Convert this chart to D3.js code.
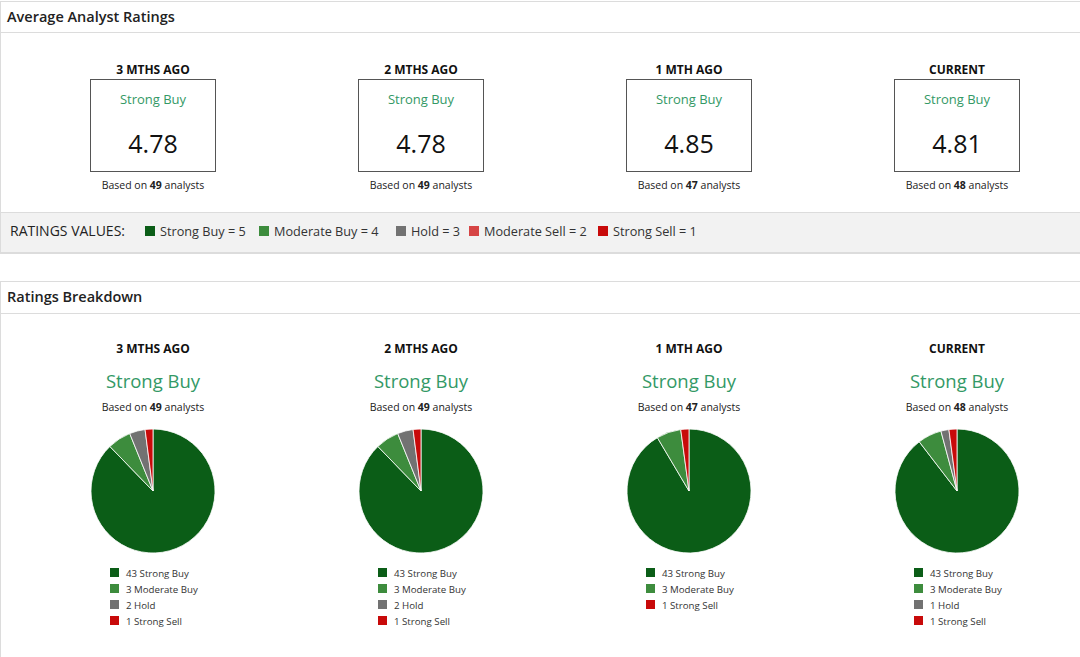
<!DOCTYPE html>
<html>
<head>
<meta charset="utf-8">
<script src="https://cdn.jsdelivr.net/npm/d3@7"></script>
<style>
  body { margin: 0; background: #fff; }
  svg { display: block; font-family: "Open Sans", "Noto Sans", sans-serif; }
</style>
</head>
<body>
<div id="chart"></div>
<script>
// data
const periods = ["3 MTHS AGO", "2 MTHS AGO", "1 MTH AGO", "CURRENT"];
const avgRatings = [4.78, 4.78, 4.85, 4.81];
const ratingLabels = ["Strong Buy", "Strong Buy", "Strong Buy", "Strong Buy"];
const analystCounts = [49, 49, 47, 48];

const categories = ["Strong Buy", "Moderate Buy", "Hold", "Moderate Sell", "Strong Sell"];
const categoryValues = [5, 4, 3, 2, 1];
const strongBuy = [43, 43, 43, 43];
const moderateBuy = [3, 3, 3, 3];
const hold = [2, 2, 0, 1];
const moderateSell = [0, 0, 0, 0];
const strongSell = [1, 1, 1, 1];

const width = 1080, height = 657;
const border = "#dcdcdc";
const ratingGreen = "#339966";

const colorScale = d3.scaleOrdinal()
    .domain(categories)
    .range(["#0b5d17", "#3d8c3d", "#727272", "#d64545", "#c80a0a"]);

const xScale = d3.scaleBand()
    .domain(periods)
    .range([19, 1091]);
const cx = p => xScale(p) + xScale.bandwidth() / 2;

const svg = d3.select("#chart").append("svg")
    .attr("width", width)
    .attr("height", height);

// panel frames
function panel(top, bottom, headerBottom, title) {
    svg.append("rect")
        .attr("x", 0.5).attr("y", top + 0.5)
        .attr("width", width + 10).attr("height", bottom - top)
        .attr("fill", "#fff").attr("stroke", border);
    svg.append("line")
        .attr("x1", 0).attr("x2", width)
        .attr("y1", headerBottom + 0.5).attr("y2", headerBottom + 0.5)
        .attr("stroke", border);
    svg.append("text")
        .attr("x", 7).attr("y", top + 21)
        .style("font-size", "14.5px").style("font-weight", "600")
        .attr("fill", "#222")
        .text(title);
}

panel(1, 253, 32, "Average Analyst Ratings");
panel(281, 700, 313, "Ratings Breakdown");

// ratings values bar
svg.append("rect")
    .attr("x", 0.5).attr("y", 212.5)
    .attr("width", width + 10).attr("height", 40)
    .attr("fill", "#f2f2f2").attr("stroke", border);

svg.append("text")
    .attr("x", 10).attr("y", 236)
    .style("font-size", "14px")
    .attr("fill", "#222")
    .text("RATINGS VALUES:");

const legendX = [145, 259, 396, 469, 598];
const ratingLegend = svg.append("g").selectAll("g")
    .data(categories)
    .join("g")
    .attr("transform", (d, i) => `translate(${legendX[i]},226)`);
ratingLegend.append("rect")
    .attr("width", 10).attr("height", 10)
    .attr("fill", d => colorScale(d));
ratingLegend.append("text")
    .attr("x", 15).attr("y", 9.5)
    .style("font-size", "12.7px")
    .attr("fill", "#333")
    .text((d, i) => `${d} = ${categoryValues[i]}`);

// average rating boxes
const boxes = svg.append("g").selectAll("g")
    .data(periods)
    .join("g")
    .attr("transform", d => `translate(${cx(d)},0)`);

boxes.append("text")
    .attr("y", 74).attr("text-anchor", "middle")
    .style("font-size", "12px").style("font-weight", "700")
    .attr("fill", "#111")
    .text(d => d);

boxes.append("rect")
    .attr("x", -62.5).attr("y", 79.5)
    .attr("width", 125).attr("height", 92)
    .attr("fill", "#fff").attr("stroke", "#555");

boxes.append("text")
    .attr("y", 104).attr("text-anchor", "middle")
    .style("font-size", "13px")
    .attr("fill", ratingGreen)
    .text((d, i) => ratingLabels[i]);

boxes.append("text")
    .attr("y", 153).attr("text-anchor", "middle")
    .style("font-size", "25px")
    .attr("fill", "#111")
    .text((d, i) => avgRatings[i].toFixed(2));

function basedOn(sel, y) {
    const t = sel.append("text")
        .attr("y", y).attr("text-anchor", "middle")
        .style("font-size", "10.5px")
        .attr("fill", "#222");
    t.append("tspan").text("Based on ");
    t.append("tspan").style("font-weight", "700").text((d, i) => analystCounts[i]);
    t.append("tspan").text(" analysts");
}
basedOn(boxes, 189);

// ratings breakdown pies
const breakdown = periods.map((p, i) => {
    const counts = [strongBuy[i], moderateBuy[i], hold[i], moderateSell[i], strongSell[i]];
    return categories.map((c, j) => ({ key: c, value: counts[j] }));
});

const pie = d3.pie().sort(null).value(d => d.value);
const arc = d3.arc().innerRadius(0).outerRadius(62);

const cols = svg.append("g").selectAll("g")
    .data(periods)
    .join("g")
    .attr("transform", d => `translate(${cx(d)},0)`);

cols.append("text")
    .attr("y", 353).attr("text-anchor", "middle")
    .style("font-size", "12px").style("font-weight", "700")
    .attr("fill", "#111")
    .text(d => d);

cols.append("text")
    .attr("y", 388).attr("text-anchor", "middle")
    .style("font-size", "18.5px")
    .attr("fill", ratingGreen)
    .text((d, i) => ratingLabels[i]);

basedOn(cols, 411);

cols.each(function (p, i) {
    const g = d3.select(this);
    const slices = breakdown[i].filter(d => d.value > 0);

    g.append("g")
        .attr("transform", "translate(0,491)")
        .selectAll("path")
        .data(pie(slices))
        .join("path")
        .attr("d", arc)
        .attr("fill", d => colorScale(d.data.key))
        .attr("stroke", "#fff")
        .attr("stroke-width", 0.8);

    const items = g.append("g")
        .attr("transform", "translate(-43,568)")
        .selectAll("g")
        .data(slices)
        .join("g")
        .attr("transform", (d, k) => `translate(0,${k * 16})`);
    items.append("rect")
        .attr("width", 9).attr("height", 9)
        .attr("fill", d => colorScale(d.key));
    items.append("text")
        .attr("x", 16).attr("y", 8.5)
        .style("font-size", "9.7px")
        .attr("fill", "#333")
        .text(d => `${d.value} ${d.key}`);
});
</script>
</body>
</html>
